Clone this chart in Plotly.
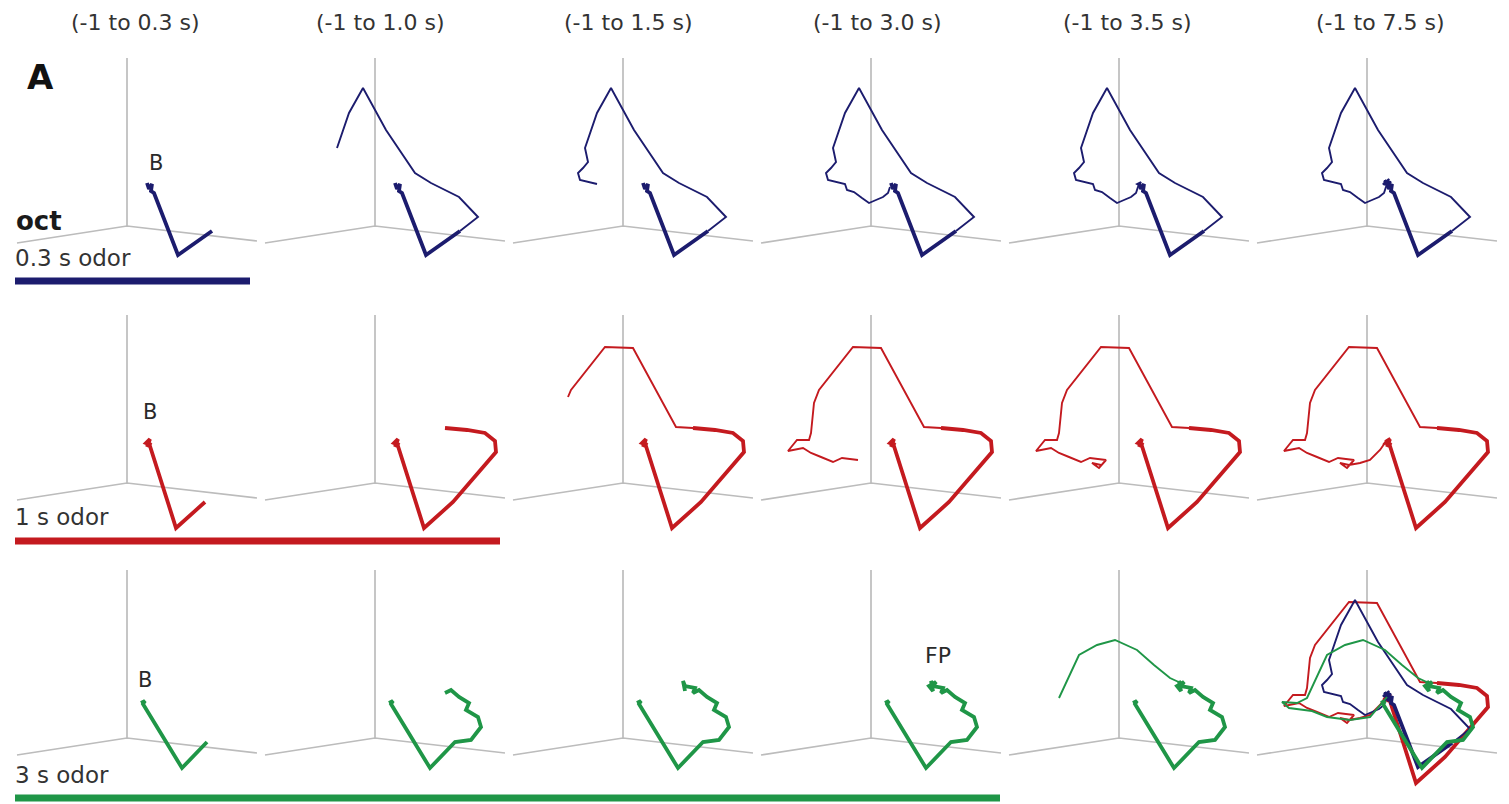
import plotly.graph_objects as go

W, H = 1509, 804

# ---------------- data ----------------
titles = ["(-1 to 0.3 s)", "(-1 to 1.0 s)", "(-1 to 1.5 s)",
          "(-1 to 3.0 s)", "(-1 to 3.5 s)", "(-1 to 7.5 s)"]
window_end = [0.3, 1.0, 1.5, 3.0, 3.5, 7.5]
odor_labels = ["0.3 s odor", "1 s odor", "3 s odor"]
odor_dur = [0.3, 1.0, 3.0]
colors = ["#1c1c6e", "#c41a1f", "#1f9647"]

# projected trajectory (PC space, projected) for octanol 0.3 s
blue_t = [-1.0, -0.75, -0.5, -0.25, 0.0, 0.15, 0.3, 0.4, 0.5, 0.6, 0.68, 0.8, 0.92,
          0.96, 1.0, 1.15, 1.25, 1.3, 1.38, 1.45, 1.5, 1.7, 1.9, 2.1, 2.3, 2.5, 2.7,
          2.85, 3.0, 3.2, 3.35, 3.5, 4.0, 4.5, 5.0, 5.5, 6.0, 6.5, 7.0, 7.5]
blue_x = [20, 22, 25, 24, 27, 51, 85, 103, 84, 56, 40, 11, -12,
          -26, -38, -35, -40, -45, -43, -31, -26, -24, -17, -9, -2, 5, 12,
          17, 19, 22, 18, 21, 17, 24, 19, 22, 16, 23, 18, 21]
blue_y = [43, 37, 42, 35, 33, -29, -5, 9, 29, 43, 53, 96, 138,
          113, 78, 64, 58, 53, 46, 43, 42, 36, 34, 28, 23, 26, 29,
          33, 39, 44, 42, 40, 45, 44, 39, 47, 42, 40, 46, 43]

# octanol 1 s
red_t = [-1.0, -0.7, -0.5, -0.3, 0.0, 0.15, 0.3, 0.6, 0.7, 0.8, 0.9, 1.0,
         1.05, 1.15, 1.22, 1.4, 1.5, 1.7, 1.9, 2.0, 2.1, 2.2, 2.3, 2.4, 2.55,
         2.7, 2.85, 3.0, 3.2, 3.35, 3.5, 4.0, 4.5, 5.0, 5.5, 6.0, 6.5, 7.0, 7.5]
red_x = [20, 23, 19, 24, 22, 49, 78, 121, 120, 110, 92, 70,
         53, 10, -18, -52, -55, -57, -60, -62, -74, -83, -68, -60, -50,
         -38, -29, -13, -20, -27, -18, -7, 3, 13, 20, 16, 23, 18, 22]
red_y = [36, 44, 40, 38, 40, -45, -19, 31, 42, 50, 53, 55,
         56, 135, 136, 93, 86, 80, 50, 43, 43, 32, 35, 30, 26,
         21, 25, 23, 15, 20, 18, 20, 23, 33, 43, 38, 45, 42, 40]

# octanol 3 s
green_t = [-1.0, -0.5, 0.0, 0.15, 0.3, 0.6, 0.75, 0.82, 0.88, 0.92, 0.96, 0.98, 1.0,
           1.1, 1.25, 1.38, 1.5, 2.0, 2.4, 2.7, 3.0,
           3.1, 3.2, 3.3, 3.4, 3.45, 3.48, 3.5, 4.0, 4.3, 4.6, 5.0, 5.5, 6.0,
           6.5, 7.0, 7.5]
green_x = [14, 18, 16, 55, 80, 96, 106, 103, 91, 94, 84, 76, 70,
           72, 62, 60, 62, 58, 65, 61, 64,
           51, 35, 18, -4, -22, -40, -60, -70, -85, -78, -55, -40, -17,
           3, 15, 20]
green_y = [35, 37, 34, -30, -4, -2, 11, 21, 28, 35, 41, 48, 45,
           50, 52, 57, 47, 52, 56, 50, 54,
           60, 73, 88, 98, 93, 83, 40, 35, 36, 30, 27, 21, 18,
           21, 35, 41]

# 3-D axis frame (projected): ground arms and vertical axis
frame_x = [-110, 0, 130, None, 0, 0]
frame_y = [-17, 0, -15, None, 0, 168]

series = [(blue_t, blue_x, blue_y), (red_t, red_x, red_y), (green_t, green_x, green_y)]

# ---------------- layout geometry ----------------
col_origin = [127, 375, 623, 871, 1119, 1367]
row_origin = [226, 483, 738]
XR = (-125, 140)
YR = (-60, 175)

fig = go.Figure()
layout_axes = {}


def split(t, x, y, dur, tend):
    thick = [(xi, yi) for ti, xi, yi in zip(t, x, y) if ti <= min(dur, tend) + 1e-9]
    thin = [(xi, yi) for ti, xi, yi in zip(t, x, y) if dur - 1e-9 <= ti <= tend + 1e-9] if tend > dur else []
    return thick, thin


k = 0
for r in range(3):
    for c in range(6):
        k += 1
        xa = "x" if k == 1 else f"x{k}"
        ya = "y" if k == 1 else f"y{k}"
        ox, oy = col_origin[c], row_origin[r]
        layout_axes["xaxis" if k == 1 else f"xaxis{k}"] = dict(
            domain=[(ox + XR[0]) / W, (ox + XR[1]) / W], range=list(XR),
            visible=False, anchor=ya, fixedrange=True)
        layout_axes["yaxis" if k == 1 else f"yaxis{k}"] = dict(
            domain=[1 - (oy - YR[0]) / H, 1 - (oy - YR[1]) / H], range=list(YR),
            visible=False, anchor=xa, fixedrange=True)
        fig.add_trace(go.Scatter(x=frame_x, y=frame_y, mode="lines",
                                 line=dict(color="#bcbcbc", width=1.7),
                                 xaxis=xa, yaxis=ya, hoverinfo="skip", showlegend=False))
        if r == 2 and c == 5:
            idxs = [1, 0, 2]
        else:
            idxs = [r]
        for i in idxs:
            t, x, y = series[i]
            thick, thin = split(t, x, y, odor_dur[i], window_end[c])
            if thin:
                fig.add_trace(go.Scatter(x=[p[0] for p in thin], y=[p[1] for p in thin],
                                         mode="lines", line=dict(color=colors[i], width=1.9),
                                         xaxis=xa, yaxis=ya, hoverinfo="skip", showlegend=False))
            fig.add_trace(go.Scatter(x=[p[0] for p in thick], y=[p[1] for p in thick],
                                     mode="lines", line=dict(color=colors[i], width=3.8),
                                     xaxis=xa, yaxis=ya, hoverinfo="skip", showlegend=False))

annotations = []
font_family = "DejaVu Sans, Verdana, sans-serif"


def note(text, px, py, size, color="#2a2a2a", xanchor="center"):
    annotations.append(dict(text=text, x=px / W, y=1 - py / H, xref="paper", yref="paper",
                            xanchor=xanchor, yanchor="middle", showarrow=False,
                            font=dict(size=size, color=color, family=font_family)))


title_x = [135, 380, 628, 877, 1127, 1380]
for c in range(6):
    note(titles[c], title_x[c], 22, 22, "#333333")
note("<b>A</b>", 40, 77, 34, "#111111")
note("<b>oct</b>", 14, 221, 26, "#1a1a1a", "left")
label_y = [258, 517, 775]
bar_y = [281, 541, 798]
bar_end = [250, 500, 1000]
for r in range(3):
    note(odor_labels[r], 13, label_y[r], 23, "#333333", "left")
for (bx, by) in [(156, 163), (150, 412), (145, 680)]:
    note("B", bx, by, 21)
note("FP", 938, 655, 22)

shapes = []
for r in range(3):
    shapes.append(dict(type="line", xref="paper", yref="paper",
                       x0=15 / W, x1=bar_end[r] / W, y0=1 - bar_y[r] / H, y1=1 - bar_y[r] / H,
                       line=dict(color=colors[r], width=7)))

fig.update_layout(width=W, height=H, margin=dict(l=0, r=0, t=0, b=0),
                  paper_bgcolor="white", plot_bgcolor="rgba(0,0,0,0)",
                  annotations=annotations, shapes=shapes, showlegend=False,
                  **layout_axes)
fig.write_html("out.html", config={"displayModeBar": False},
               post_script="document.body.style.margin='0px';document.body.style.overflow='hidden';")
